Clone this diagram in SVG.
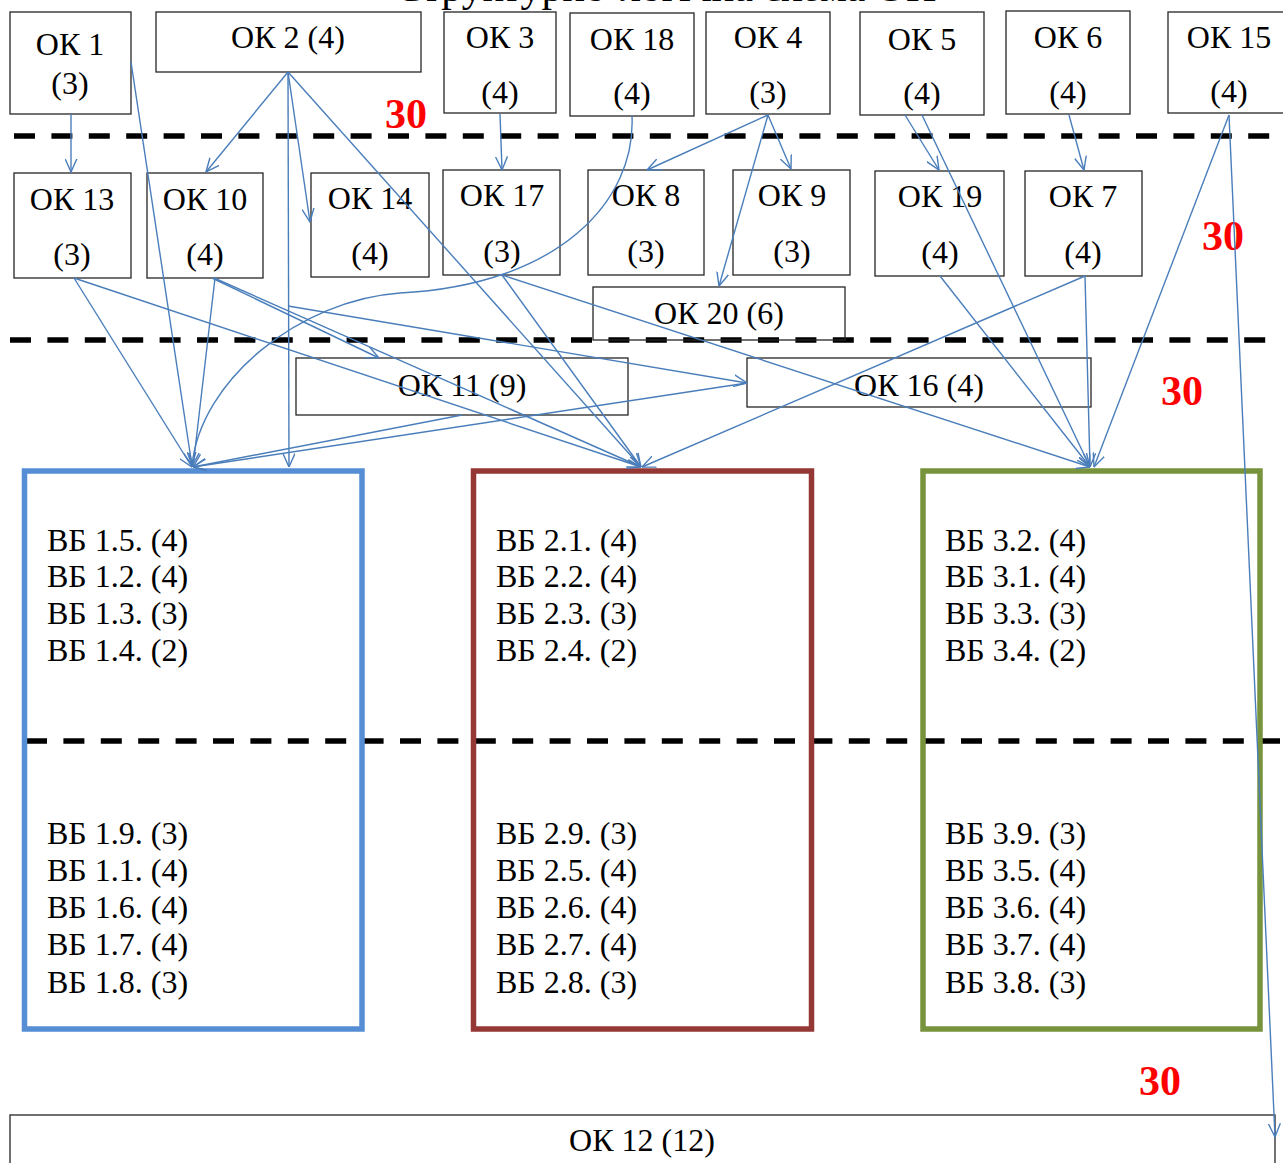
<svg xmlns="http://www.w3.org/2000/svg" width="1283" height="1163" viewBox="0 0 1283 1163">
<style>
.bg{fill:#fff}
.box{fill:none;stroke:#262626;stroke-width:1.3}
.t{font-family:"Liberation Serif","Times New Roman",serif;font-size:32px;fill:#000}
.c{text-anchor:middle}
.red{font-family:"Liberation Serif","Times New Roman",serif;font-weight:bold;font-size:42px;fill:#FF0000;text-anchor:middle}
.dash{fill:none;stroke:#000;stroke-width:5.5;stroke-dasharray:21 16.4}
.vb{fill:none;stroke-width:5.5}
#connectors path{fill:none;stroke:#4A7EBB;stroke-width:1.4;marker-end:url(#ah)}
</style>
<defs>
<marker id="ah" viewBox="0 0 14 13" refX="13.5" refY="6.5" markerWidth="14" markerHeight="13" markerUnits="userSpaceOnUse" orient="auto">
<path d="M0,0.5 L13.5,6.5 L0,12.5" fill="none" stroke="#4A7EBB" stroke-width="1.4"/>
</marker>
</defs>
<rect class="bg" x="0" y="0" width="1283" height="1163"/>
<text class="t" x="395" y="0.5" style="font-size:42px">Структурно-логічна схема ОП</text>

<g id="dashed-lines">
<path class="dash" d="M14,136 H1270"/>
<path class="dash" d="M10,340 H1268"/>
<path class="dash" d="M26,741 H1280"/>
</g>

<g id="ok1"><rect class="box" x="10" y="12" width="121" height="102"/><text class="t c" x="70" y="55">ОК 1</text><text class="t c" x="70" y="94">(3)</text></g>
<g id="ok2"><rect class="box" x="156" y="12" width="265" height="60"/><text class="t c" x="288" y="48">ОК 2 (4)</text></g>
<g id="ok3"><rect class="box" x="444" y="12" width="112" height="101"/><text class="t c" x="500" y="48">ОК 3</text><text class="t c" x="500" y="103">(4)</text></g>
<g id="ok18"><rect class="box" x="570" y="13" width="124" height="103"/><text class="t c" x="632" y="50">ОК 18</text><text class="t c" x="632" y="104">(4)</text></g>
<g id="ok4"><rect class="box" x="706" y="12" width="124" height="102"/><text class="t c" x="768" y="48">ОК 4</text><text class="t c" x="768" y="103">(3)</text></g>
<g id="ok5"><rect class="box" x="860" y="12" width="124" height="103"/><text class="t c" x="922" y="50">ОК 5</text><text class="t c" x="922" y="104">(4)</text></g>
<g id="ok6"><rect class="box" x="1006" y="11" width="124" height="103"/><text class="t c" x="1068" y="48">ОК 6</text><text class="t c" x="1068" y="103">(4)</text></g>
<g id="ok15"><rect class="box" x="1168" y="12" width="125" height="101"/><text class="t c" x="1229" y="48">ОК 15</text><text class="t c" x="1229" y="102">(4)</text></g>

<g id="ok13"><rect class="box" x="14" y="173" width="117" height="105"/><text class="t c" x="72" y="210">ОК 13</text><text class="t c" x="72" y="265">(3)</text></g>
<g id="ok10"><rect class="box" x="147" y="173" width="116" height="105"/><text class="t c" x="205" y="210">ОК 10</text><text class="t c" x="205" y="265">(4)</text></g>
<g id="ok14"><rect class="box" x="311" y="173" width="118" height="104"/><text class="t c" x="370" y="209">ОК 14</text><text class="t c" x="370" y="264">(4)</text></g>
<g id="ok17"><rect class="box" x="443" y="170" width="117" height="105"/><text class="t c" x="502" y="206">ОК 17</text><text class="t c" x="502" y="262">(3)</text></g>
<g id="ok8"><rect class="box" x="588" y="170" width="116" height="105"/><text class="t c" x="646" y="206">ОК 8</text><text class="t c" x="646" y="262">(3)</text></g>
<g id="ok9"><rect class="box" x="733" y="170" width="117" height="105"/><text class="t c" x="792" y="206">ОК 9</text><text class="t c" x="792" y="262">(3)</text></g>
<g id="ok19"><rect class="box" x="875" y="171" width="129" height="105"/><text class="t c" x="940" y="207">ОК 19</text><text class="t c" x="940" y="263">(4)</text></g>
<g id="ok7"><rect class="box" x="1025" y="171" width="117" height="105"/><text class="t c" x="1083" y="207">ОК 7</text><text class="t c" x="1083" y="263">(4)</text></g>
<g id="ok20"><rect class="box" x="593" y="287" width="252" height="53"/><text class="t c" x="719" y="324">ОК 20 (6)</text></g>
<g id="ok11"><rect class="box" x="296" y="358" width="332" height="57"/><text class="t c" x="462" y="396">ОК 11 (9)</text></g>
<g id="ok16"><rect class="box" x="747" y="358" width="344" height="49"/><text class="t c" x="919" y="396">ОК 16 (4)</text></g>

<g id="vb1"><rect class="vb" x="24.5" y="471" width="337.5" height="558" stroke="#558ED5"/>
<text class="t" x="47" y="551">ВБ 1.5. (4)</text><text class="t" x="47" y="587">ВБ 1.2. (4)</text><text class="t" x="47" y="624">ВБ 1.3. (3)</text><text class="t" x="47" y="661">ВБ 1.4. (2)</text>
<text class="t" x="47" y="844">ВБ 1.9. (3)</text><text class="t" x="47" y="881">ВБ 1.1. (4)</text><text class="t" x="47" y="918">ВБ 1.6. (4)</text><text class="t" x="47" y="955">ВБ 1.7. (4)</text><text class="t" x="47" y="993">ВБ 1.8. (3)</text></g>
<g id="vb2"><rect class="vb" x="473.5" y="471" width="338" height="558" stroke="#953735"/>
<text class="t" x="496" y="551">ВБ 2.1. (4)</text><text class="t" x="496" y="587">ВБ 2.2. (4)</text><text class="t" x="496" y="624">ВБ 2.3. (3)</text><text class="t" x="496" y="661">ВБ 2.4. (2)</text>
<text class="t" x="496" y="844">ВБ 2.9. (3)</text><text class="t" x="496" y="881">ВБ 2.5. (4)</text><text class="t" x="496" y="918">ВБ 2.6. (4)</text><text class="t" x="496" y="955">ВБ 2.7. (4)</text><text class="t" x="496" y="993">ВБ 2.8. (3)</text></g>
<g id="vb3"><rect class="vb" x="923" y="471" width="337" height="558" stroke="#77933C"/>
<text class="t" x="945" y="551">ВБ 3.2. (4)</text><text class="t" x="945" y="587">ВБ 3.1. (4)</text><text class="t" x="945" y="624">ВБ 3.3. (3)</text><text class="t" x="945" y="661">ВБ 3.4. (2)</text>
<text class="t" x="945" y="844">ВБ 3.9. (3)</text><text class="t" x="945" y="881">ВБ 3.5. (4)</text><text class="t" x="945" y="918">ВБ 3.6. (4)</text><text class="t" x="945" y="955">ВБ 3.7. (4)</text><text class="t" x="945" y="993">ВБ 3.8. (3)</text></g>

<g id="ok12"><rect class="box" x="10" y="1115" width="1265" height="70"/><text class="t c" x="642" y="1151">ОК 12 (12)</text></g>

<g id="labels">
<text class="red" x="406" y="128">30</text>
<text class="red" x="1223" y="250">30</text>
<text class="red" x="1182" y="405">30</text>
<text class="red" x="1160" y="1095">30</text>
</g>

<g id="connectors">
<path d="M71,114 L71,172"/>
<path d="M131,62 L192,466"/>
<path d="M288,72 L206,172"/>
<path d="M288,72 L289,467"/>
<path d="M288,72 L310,222"/>
<path d="M288,72 L641,467"/>
<path d="M288,306 L747,383"/>
<path d="M500,114 L502,170"/>
<path d="M632,116 C636,200 560,285 400,293 C300,300 200,380 192,466"/>
<path d="M768,115 L647,170"/>
<path d="M768,115 L791,169"/>
<path d="M768,115 L719,286"/>
<path d="M905,115 L939,170"/>
<path d="M922,115 L1090,467"/>
<path d="M1069,115 L1084,170"/>
<path d="M1229,115 L1094,467"/>
<path d="M1229,115 L1275,1137"/>
<path d="M74,278 L192,467"/>
<path d="M74,278 L641,467"/>
<path d="M215,278 L193,467"/>
<path d="M212,278 L379,358"/>
<path d="M214,278 L641,467"/>
<path d="M502,275 L641,467"/>
<path d="M502,275 L1090,467"/>
<path d="M940,276 L1090,467"/>
<path d="M1085,276 L1090,467"/>
<path d="M1085,276 L642,467"/>
<path d="M462,415 L193,467"/>
<path d="M747,383 L193,467"/>
</g>
</svg>
